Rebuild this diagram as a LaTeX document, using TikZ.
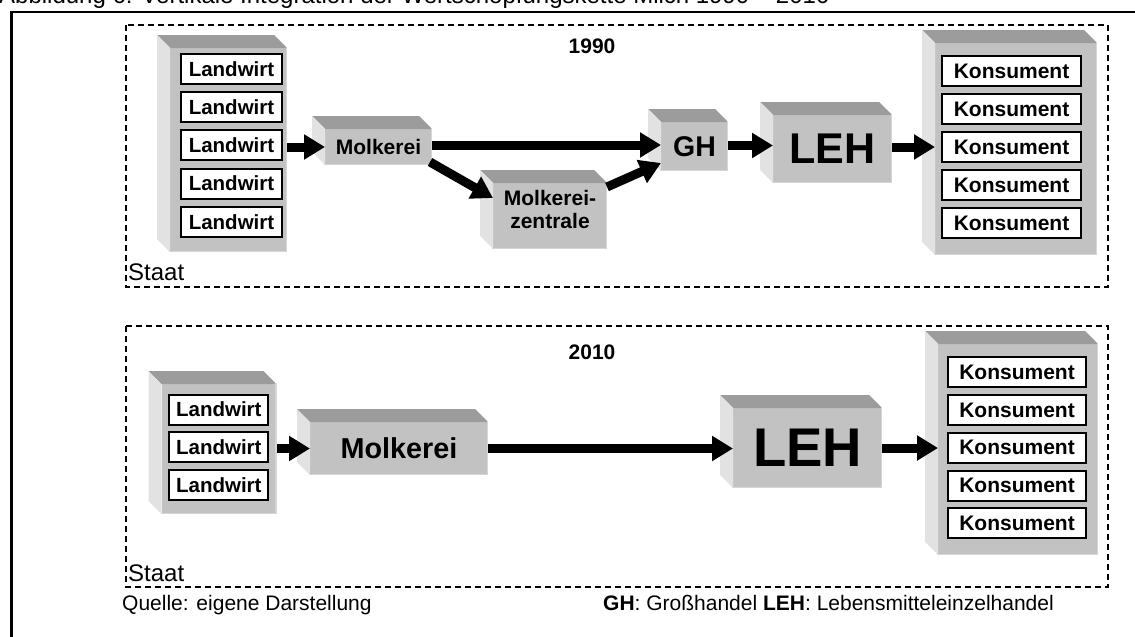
\documentclass[tikz,border=0pt]{standalone}
\usepackage{fontspec}
\setmainfont{Liberation Sans}
\usetikzlibrary{arrows.meta,calc}
\definecolor{frontgray}{HTML}{C2C2C2}
\definecolor{topgray}{HTML}{9C9C9C}
\definecolor{sidegray}{HTML}{E2E2E2}
\definecolor{edgegray}{HTML}{D6D6D6}
\newcommand\myfs[1]{\fontsize{#1}{#1}\selectfont}
\newcommand\boxsides[1]{%
  \fill[topgray] (#1.north west) -- ++(-13,-13) -- ($(#1.north east)+(-13,-13)$) -- (#1.north east) -- cycle;
  \fill[sidegray] (#1.north west) -- ++(-13,-13) -- ($(#1.south west)+(-13,-13)$) -- (#1.south west) -- cycle;
  \draw[edgegray, line width=1.5pt] ([shift={(-0.75pt,0.75pt)}]#1.south west) -- ([shift={(-0.75pt,0.75pt)}]#1.south east) -- ([shift={(-0.75pt,0.75pt)}]#1.north east);
}
\tikzset{
  front/.style={fill=frontgray, inner sep=0pt, outer sep=0pt, font=\bfseries, align=center},
  item/.style={draw=black, line width=2pt, fill=white, inner sep=0pt, minimum height=30pt, font=\myfs{20.5}\bfseries},
  arr/.style={line width=9pt, -{Triangle[length=21pt,width=24pt]}},
  framebox/.style={dash pattern=on 6pt off 4pt, line width=1.5pt},
  plain/.style={inner sep=0pt, anchor=base west},
}
\begin{document}
\begin{tikzpicture}[x=1pt,y=-1pt]
\useasboundingbox (0,0) rectangle (1135,637);
\clip (0,0) rectangle (1135,637);
% title (cut off at top, as in the reference)
\node[plain, font=\myfs{24}] (title) at (-1,3) {Abbildung 6: Vertikale Integration der Wertschöpfungskette Milch 1990 – 2010};
% outer frame
\draw[line width=2.5pt] (11.5,640) -- (11.5,12) -- (1140,12);
% dashed frames
\draw[framebox] (126,25) rectangle (1108,287);
\draw[framebox] (126,326) rectangle (1108,587);
\node[font=\myfs{21}\bfseries] (y1990) at (592,46) {1990};
\node[font=\myfs{21}\bfseries] (y2010) at (592,352) {2010};
\node[plain, font=\myfs{24}] (staat1) at (128,280) {Staat};
\node[plain, font=\myfs{24}] (staat2) at (128,581) {Staat};

% ---------- 1990 ----------
\node[front, minimum width=117pt, minimum height=204pt] (lw1) at (228.5,150) {};
\boxsides{lw1}
\foreach \y/\n in {69/1,107.2/2,145.4/3,183.6/4,221.8/5}
  \node[item, minimum width=101pt] (lw1-\n) at (231.5,\y) {Landwirt};

\node[front, minimum width=107pt, minimum height=36pt, font=\myfs{21}\bfseries] (mk1) at (378.5,147) {Molkerei};
\boxsides{mk1}

\node[front, minimum width=114pt, minimum height=66pt,
  label={[font=\myfs{21}\bfseries, align=center, yshift=7pt]center:Molkerei-\\[2pt]zentrale}] (mz) at (550,216) {};
\boxsides{mz}

\node[front, minimum width=67pt, minimum height=49pt, font=\myfs{28.5}\bfseries] (gh) at (694.5,146.5) {GH};
\boxsides{gh}

\node[front, minimum width=119pt, minimum height=68pt, font=\myfs{43}\bfseries] (leh1) at (832.5,149) {LEH};
\boxsides{leh1}

\node[front, minimum width=162pt, minimum height=212pt] (ks1) at (1016,149) {};
\boxsides{ks1}
\foreach \y/\n in {71.3/1,109.2/2,147.1/3,185/4,222.9/5}
  \node[item, minimum width=139pt, font=\myfs{21}\bfseries] (ks1-\n) at (1011.5,\y) {Konsument};

\draw[arr] (lw1.east |- mk1.west) -- (mk1.west);
\draw[arr] ([yshift=2pt]mk1.east) -- ([yshift=2pt]mk1.east -| gh.west);
\draw[arr] ([xshift=-2pt,yshift=3pt]mk1.south east) -- ([yshift=18pt]mz.west);
\draw[arr] ([yshift=-4pt]mz.north east) -- ([yshift=8pt]gh.south west);
\draw[arr] ([yshift=1pt]gh.east) -- ([yshift=1pt]gh.east -| leh1.west);
\draw[arr] ([yshift=2pt]leh1.east) -- ([yshift=2pt]leh1.east -| ks1.west);

% ---------- 2010 ----------
\node[front, minimum width=115pt, minimum height=130pt] (lw2) at (219,449) {};
\boxsides{lw2}
\foreach \y/\n in {409.5/1,447.2/2,485/3}
  \node[item, minimum width=99pt] (lw2-\n) at (218.8,\y) {Landwirt};

\node[front, minimum width=178pt, minimum height=53pt, font=\myfs{28.8}\bfseries] (mk2) at (399,448.5) {Molkerei};
\boxsides{mk2}

\node[front, minimum width=149pt, minimum height=80pt, font=\myfs{54.5}\bfseries] (leh2) at (807.5,448) {LEH};
\boxsides{leh2}

\node[front, minimum width=160pt, minimum height=211pt] (ks2) at (1018,449.5) {};
\boxsides{ks2}
\foreach \y/\n in {372/1,410/2,447.7/3,485.7/4,523.3/5}
  \node[item, minimum width=138pt, font=\myfs{21}\bfseries] (ks2-\n) at (1017,\y) {Konsument};

\draw[arr] (lw2.east |- mk2.west) -- (mk2.west);
\draw[arr] (mk2.east) -- (mk2.east -| leh2.west);
\draw[arr] (leh2.east) -- (leh2.east -| ks2.west);

% footer
\node[plain, font=\myfs{21}] (src) at (122,610) {Quelle: eigene Darstellung};
\node[plain, font=\myfs{21}] (leg) at (603,610) {\textbf{GH}: Großhandel \textbf{LEH}: Lebensmitteleinzelhandel};
\end{tikzpicture}
\end{document}
